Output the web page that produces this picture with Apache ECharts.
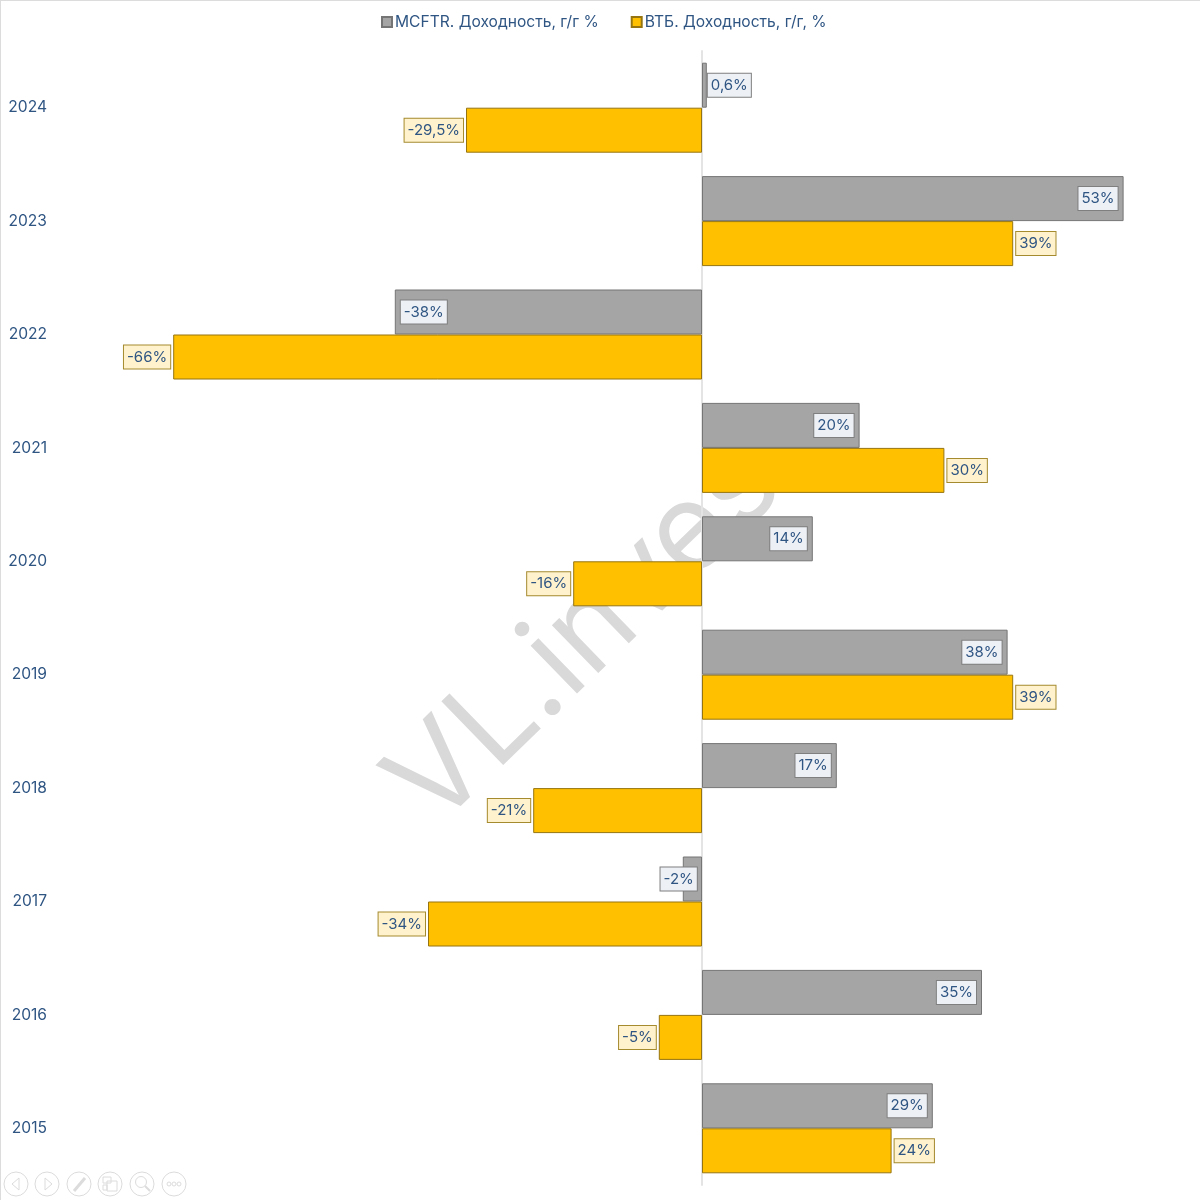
<!DOCTYPE html>
<html>
<head>
<meta charset="utf-8">
<style>
  html, body { margin: 0; padding: 0; background: #fff; }
  #chart { width: 1200px; height: 1200px; }
</style>
<script src="https://cdn.jsdelivr.net/npm/echarts@6/dist/echarts.min.js"></script>
</head>
<body>
<div id="chart"></div>
<script>
var years = ["2024", "2023", "2022", "2021", "2020", "2019", "2018", "2017", "2016", "2015"];
var mcftr = [0.6, 52.7, -38.4, 19.7, 13.85, 38.2, 16.85, -2.4, 35, 28.85];
var vtb = [-29.5, 38.9, -66.1, 30.3, -16.1, 38.9, -21.1, -34.25, -5.4, 23.7];
var mcftrLabels = ["0,6%", "53%", "-38%", "20%", "14%", "38%", "17%", "-2%", "35%", "29%"];
var vtbLabels = ["-29,5%", "39%", "-66%", "30%", "-16%", "39%", "-21%", "-34%", "-5%", "24%"];
var mcftrName = "MCFTR. Доходность, г/г %";
var vtbName = "ВТБ. Доходность, г/г, %";

var FONT = "Inter";
var TEXT = "#2f5583";
var ICON = "#dcdcdc";

function labelBase(bg, border) {
  return {
    show: true,
    color: TEXT,
    fontFamily: FONT,
    fontSize: 15,
    backgroundColor: bg,
    borderColor: border,
    borderWidth: 1,
    padding: [5, 3, 3, 3]
  };
}

// серые подписи внутри столбца, кроме совсем маленьких
function mcftrItem(v, i) {
  var label = { formatter: mcftrLabels[i] };
  if (v < -1) label.position = v < -5 ? "insideLeft" : "left";
  else label.position = v > 5 ? "insideRight" : "right";
  label.distance = Math.abs(v) > 5 ? 6 : 1;
  if (v < 0 && v > -5) label.offset = [15, 0];
  return { value: v, label: label };
}

function vtbItem(v, i) {
  return {
    value: v,
    label: { formatter: vtbLabels[i], position: v < 0 ? "left" : "right", distance: 3 }
  };
}

var chart = echarts.init(document.getElementById("chart"));

function iconLine(x1, y1, x2, y2, w) {
  return {
    type: "line",
    shape: { x1: x1, y1: y1, x2: x2, y2: y2 },
    style: { stroke: ICON, lineWidth: w || 1 },
    silent: true,
    z: 6
  };
}
function iconShape(type, shape) {
  return {
    type: type,
    shape: shape,
    style: { fill: "none", stroke: ICON, lineWidth: 1 },
    silent: true,
    z: 6
  };
}

// кнопки показа слайдов внизу слева
var icons = [];
[16, 47, 79, 110, 142, 174].forEach(function (cx) {
  icons.push(iconShape("circle", { cx: cx, cy: 1184, r: 12 }));
});
icons.push(iconShape("polygon", { points: [[19, 1178], [12, 1184], [19, 1190]] }));
icons.push(iconShape("polygon", { points: [[45, 1178], [52, 1184], [45, 1190]] }));
icons.push(iconLine(74, 1191, 85, 1178, 3));
icons.push(iconShape("rect", { x: 103, y: 1177, width: 8, height: 6 }));
icons.push(iconShape("rect", { x: 107, y: 1181, width: 10, height: 10 }));
icons.push(iconShape("rect", { x: 103, y: 1185, width: 4, height: 5 }));
icons.push(iconShape("circle", { cx: 141, cy: 1182, r: 5.5 }));
icons.push(iconLine(145, 1186, 150, 1191, 2));
icons.push(iconShape("circle", { cx: 169, cy: 1184, r: 2 }));
icons.push(iconShape("circle", { cx: 174, cy: 1184, r: 2 }));
icons.push(iconShape("circle", { cx: 179, cy: 1184, r: 2 }));

chart.setOption({
  backgroundColor: "#fff",
  animation: false,
  legend: {
    top: 9,
    left: 376,
    icon: "rect",
    itemWidth: 10,
    itemHeight: 10,
    itemGap: 32,
    textStyle: { color: TEXT, fontFamily: FONT, fontSize: 15.6, padding: [0, 0, 0, -2] },
    data: [mcftrName, vtbName]
  },
  grid: { left: 54, right: 2, top: 51, bottom: 15 },
  xAxis: {
    type: "value",
    min: -81,
    max: 62,
    show: false
  },
  yAxis: {
    type: "category",
    inverse: true,
    data: years,
    axisLine: { show: true, onZero: true, lineStyle: { color: "#e4e4e4", width: 2 } },
    axisTick: { show: false },
    axisLabel: {
      color: TEXT,
      fontFamily: FONT,
      fontSize: 15.6,
      margin: 7,
      align: "right"
    },
    z: 1
  },
  series: [
    {
      name: mcftrName,
      type: "bar",
      barWidth: 45,
      barGap: 0,
      itemStyle: { color: "#a5a5a5", borderColor: "#757575", borderWidth: 1 },
      label: labelBase("#edf0f5", "#7f7f7f"),
      data: mcftr.map(mcftrItem)
    },
    {
      name: vtbName,
      type: "bar",
      barWidth: 45,
      barGap: 0,
      itemStyle: { color: "#ffc000", borderColor: "#967510", borderWidth: 1 },
      label: labelBase("#fff2cc", "#a58a2e"),
      data: vtb.map(vtbItem)
    }
  ],
  graphic: [
    iconLine(0, 0.5, 1200, 0.5, 1),
    iconLine(0.5, 0, 0.5, 1200, 1),
    {
      type: "text",
      x: 367,
      y: 761,
      rotation: 0.77,
      z: -1,
      silent: true,
      style: { text: "VL.inves", fill: "#d9d9d9", font: "400 122px Inter", textBaseline: "middle" }
    }
  ].concat(icons)
});
</script>
</body>
</html>
